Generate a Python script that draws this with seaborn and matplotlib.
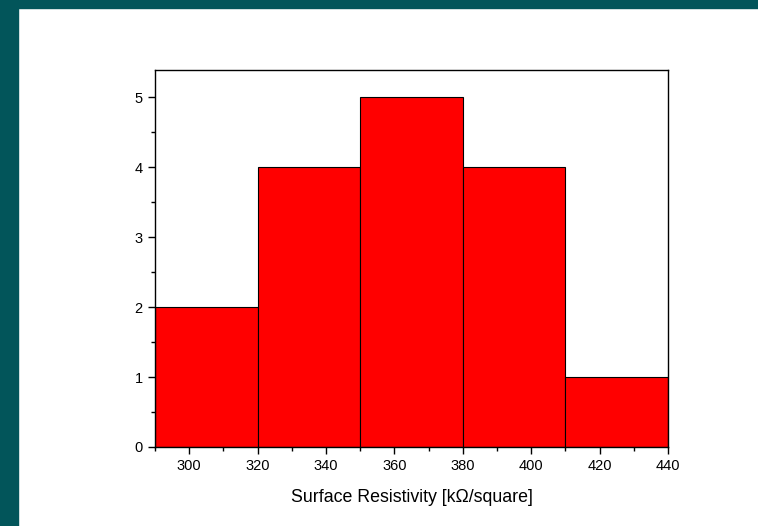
import matplotlib
matplotlib.use("Agg")
import matplotlib.pyplot as plt
from matplotlib.ticker import MultipleLocator
import numpy as np
import seaborn as sns

# histogram bins
bin_edges = [290, 320, 350, 380, 410, 440]
counts = [2, 4, 5, 4, 1]
x_label = "Surface Resistivity [k\u03a9/square]"

centers = [(a + b) / 2 for a, b in zip(bin_edges[:-1], bin_edges[1:])]

sns.set_theme(style="ticks")
plt.rcParams['font.family'] = ['Liberation Sans', 'DejaVu Sans']
plt.rcParams['text.color'] = 'black'
plt.rcParams['axes.labelcolor'] = 'black'
plt.rcParams['xtick.color'] = 'black'
plt.rcParams['ytick.color'] = 'black'

fig = plt.figure(figsize=(7.58, 5.26), dpi=100, facecolor="white")
# teal frame on left and top
fig.patches.append(plt.Rectangle((0, 0), 18 / 758, 1, transform=fig.transFigure,
                                 color="#02555a", zorder=0))
fig.patches.append(plt.Rectangle((0, 1 - 8 / 526), 1, 8 / 526, transform=fig.transFigure,
                                 color="#02555a", zorder=0))

ax = fig.add_axes([155 / 758, 79 / 526, 513 / 758, 377 / 526])
sns.histplot(x=centers, weights=counts, bins=bin_edges, color="#ff0000",
             alpha=1.0, edgecolor="black", linewidth=0.8, ax=ax)

ax.set_xlim(290, 440)
ax.set_ylim(0, 5.386)
ax.xaxis.set_major_locator(MultipleLocator(20))
ax.xaxis.set_minor_locator(MultipleLocator(10))
ax.yaxis.set_major_locator(MultipleLocator(1))
ax.yaxis.set_minor_locator(MultipleLocator(0.5))
ax.tick_params(which="major", length=5, width=1, labelsize=10.5, colors="black", pad=4)
ax.tick_params(which="minor", length=3, width=1, colors="black")
for s in ax.spines.values():
    s.set_visible(True)
    s.set_color("black")
    s.set_linewidth(1)
ax.set_ylabel("")
ax.set_xlabel(x_label, fontsize=12.8, labelpad=11, color="black")

fig.savefig("out.png", dpi=100, facecolor="white")
